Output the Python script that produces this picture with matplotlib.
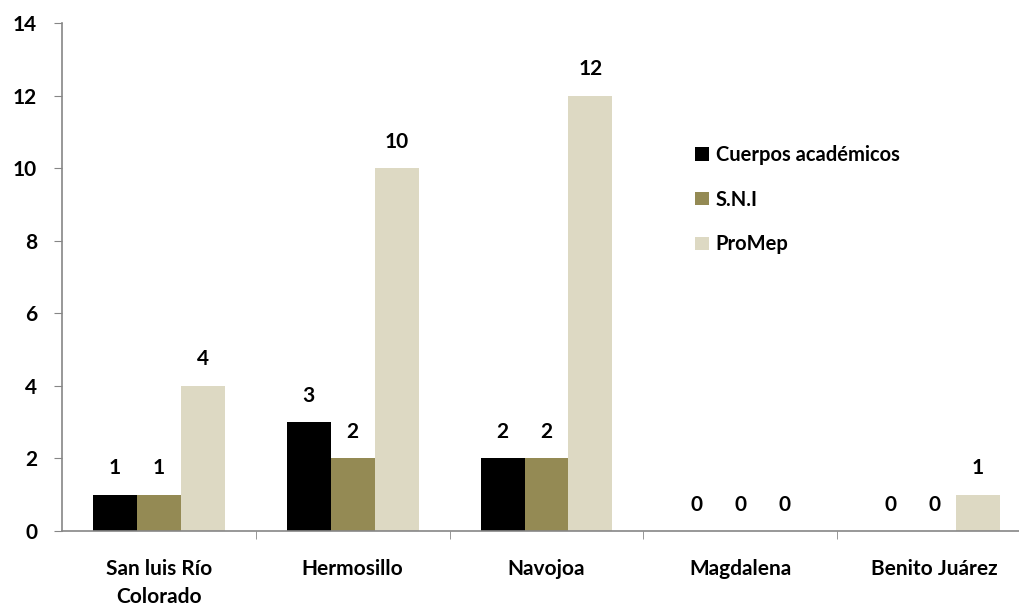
import numpy as np
import matplotlib
matplotlib.use("Agg")
import matplotlib.pyplot as plt

plt.rcParams['font.family'] = ['Lato', 'DejaVu Sans']

categories = ["San luis Río\nColorado", "Hermosillo", "Navojoa", "Magdalena", "Benito Juárez"]
cuerpos = [1, 3, 2, 0, 0]
sni = [1, 2, 2, 0, 0]
promep = [4, 10, 12, 0, 1]

series = [
    ("Cuerpos académicos", cuerpos, "#000000"),
    ("S.N.I", sni, "#948A54"),
    ("ProMep", promep, "#DDD9C3"),
]

fig = plt.figure(figsize=(10.19, 6.10), dpi=100)
ax = fig.add_axes([62 / 1019, 1 - 531 / 610, (1031 - 62) / 1019, (531 - 23) / 610])

x = np.arange(len(categories))
w = 0.227
for i, (name, vals, col) in enumerate(series):
    pos = x + (i - 1) * w
    ax.bar(pos, vals, width=w, color=col, label=name)
    for px, v in zip(pos, vals):
        ax.annotate(str(v), (px, v), xytext=(0, 19), textcoords="offset points",
                    ha="center", va="center", fontsize=15, fontweight="bold")

ax.set_xlim(-0.5, len(categories) - 0.5)
ax.set_ylim(0, 14)
ax.set_yticks(range(0, 15, 2))
ax.set_yticklabels([str(t) for t in range(0, 15, 2)], fontsize=15, fontweight="bold")

ax.set_xticks(x)
ax.set_xticklabels(categories, fontsize=15, fontweight="bold", linespacing=1.5)
ax.tick_params(axis="x", length=0, pad=20)
ax.set_xticks(np.arange(len(categories)) + 0.5, minor=True)
ax.tick_params(axis="x", which="minor", length=6, color="#868686", direction="out")
ax.tick_params(axis="y", length=6, color="#868686", direction="out", pad=12)

for s in ["top", "right"]:
    ax.spines[s].set_visible(False)
for s in ["left", "bottom"]:
    ax.spines[s].set_color("#868686")
    ax.spines[s].set_linewidth(1.2)

leg = ax.legend(loc="upper left", bbox_to_anchor=(0.635, 0.795), frameon=False,
                prop={"size": 14.5, "weight": "bold"}, handlelength=0.65, handleheight=0.65,
                handletextpad=0.35, labelspacing=1.22)

fig.savefig("out.png", dpi=100)
